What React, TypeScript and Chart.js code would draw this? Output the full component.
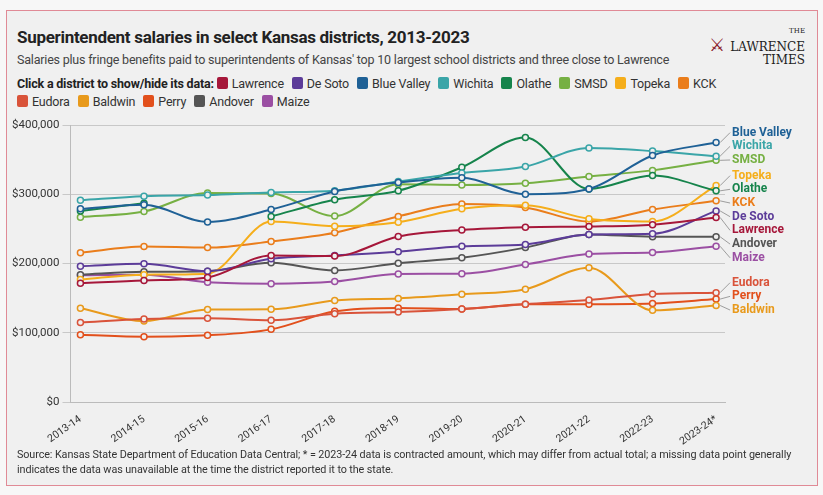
import React, { useEffect, useRef } from "react";
import { Chart, registerables } from "chart.js";
Chart.register(...registerables);

const seasons = ["2013-14","2014-15","2015-16","2016-17","2017-18","2018-19","2019-20","2020-21","2021-22","2022-23","2023-24*"];
const names = ["Lawrence","De Soto","Blue Valley","Wichita","Olathe","SMSD","Topeka","KCK","Eudora","Baldwin","Perry","Andover","Maize"];
const colors = ["#a6173a","#5c3c99","#1f6196","#3aa5a8","#16844c","#76b043","#f5ae1b","#ea7d1b","#d9533a","#e89a1c","#e2501c","#555555","#9b4fa3"];
const lawrence = [171.7,175.6,180,211.8,210.8,239,248.5,252.4,253.4,256,266.6];
const desoto = [196,199.6,189,207,211.8,217,225,227.5,242,243,276];
const blueValley = [279,285,260,278,304,317,324,300,307.6,356,374.6];
const wichita = [291.5,297.3,298.8,302.7,305.2,318.4,330.6,340,366.8,362.4,355];
const olathe = [276,287,null,268,292,305,339,382,307.6,327,305];
const smsd = [267,275,302,301,268.5,314.5,313.5,316,325.7,334.5,349];
const topeka = [177,184,185.4,260.7,254,259.7,279,284,264.6,260.7,312.5];
const kck = [215.7,224.5,223,232,244.6,268,286,281,260.7,278,290.5];
const eudora = [115,120,121,118,127.7,130,134.5,141.4,147.3,156,158];
const baldwin = [135.5,117,133.6,134,146.8,149.7,155.6,163,194,132.6,139.5];
const perry = [97.4,94.5,96.5,105,131,136,134.5,141.4,141.4,142.4,148.7];
const andover = [184,188,189,201,190,200.6,208.4,223,242,238.7,238.7];
const maize = [183,184,173,171,174,185,185.4,198.6,213.8,216,225];
const series = [lawrence,desoto,blueValley,wichita,olathe,smsd,topeka,kck,eudora,baldwin,perry,andover,maize];
const yTicks = [0,100000,200000,300000,400000];

const FONT = "'Roboto',sans-serif";

const endLabels = {
  id: "endLabels",
  afterDatasetsDraw(chart: any) {
    const ctx = chart.ctx;
    const items: any[] = [];
    chart.data.datasets.forEach((ds: any, i: number) => {
      const meta = chart.getDatasetMeta(i);
      const pt = meta.data[meta.data.length - 1];
      items.push({ y: pt.y - 10, py: pt.y, px: pt.x, label: ds.label, color: ds.borderColor });
    });
    items.sort((a, b) => a.py - b.py);
    const gap = 13.7;
    for (let i = 1; i < items.length; i++) {
      if (items[i].y < items[i - 1].y + gap) items[i].y = items[i - 1].y + gap;
    }
    ctx.save();
    ctx.font = "bold 12px " + FONT;
    ctx.textBaseline = "middle";
    items.forEach((it) => {
      const ly = it.y;
      ctx.strokeStyle = "#888";
      ctx.lineWidth = 0.8;
      ctx.beginPath();
      ctx.moveTo(it.px + 4, it.py);
      ctx.lineTo(it.px + 14, ly);
      ctx.stroke();
      ctx.fillStyle = it.color;
      ctx.fillText(it.label, it.px + 16, ly);
    });
    ctx.restore();
  },
};

export default function App() {
  const ref = useRef<HTMLCanvasElement>(null);
  useEffect(() => {
    const chart = new Chart(ref.current!, {
      type: "line",
      data: {
        datasets: names.map((n, i) => ({
          label: n,
          data: series[i].map((v, j) => ({ x: j, y: v === null ? null : v * 1000 })),
          borderColor: colors[i],
          backgroundColor: "#f0f0f0",
          borderWidth: 2,
          pointRadius: 3,
          pointBorderWidth: 1.5,
          tension: 0.4,
          cubicInterpolationMode: "monotone",
          spanGaps: false,
        })),
      },
      options: {
        animation: false,
        responsive: false,
        maintainAspectRatio: false,
        layout: { padding: { top: 14, right: 92, left: 0, bottom: 0 } },
        plugins: { legend: { display: false }, tooltip: { enabled: false } },
        scales: {
          x: {
            type: "linear",
            min: -0.156,
            max: 10.14,
            grid: { display: false },
            border: { display: true, color: "#bbb" },
            afterBuildTicks: (ax: any) => { ax.ticks = seasons.map((_, i) => ({ value: i })); },
            ticks: {
              callback: (v: any) => seasons[v] ?? "",
              maxRotation: 35, minRotation: 35,
              color: "#333", font: { size: 10.5, family: FONT },
            },
          },
          y: {
            min: 0, max: 400000,
            afterBuildTicks: (ax: any) => { ax.ticks = yTicks.map((v) => ({ value: v })); },
            grid: { color: "#c8c8c8" },
            border: { display: true, color: "#bbb" },
            ticks: {
              callback: (v: any) => "$" + Number(v).toLocaleString("en-US"),
              color: "#333", font: { size: 11.5, family: FONT },
            },
          },
        },
      },
      plugins: [endLabels],
    } as any);
    return () => chart.destroy();
  }, []);

  return (
    <div style={{ position: "absolute", left: 0, top: 0, width: 823, height: 495, background: "#f7f7f7", fontFamily: FONT }}>
      <div style={{ position: "absolute", left: 6, top: 10, width: 810, height: 474, background: "#f0f0f0", border: "1px solid #e08a96" }}>
        <div style={{ position: "absolute", left: 10, top: 16, fontSize: 17, fontWeight: "bold", color: "#222", letterSpacing: -0.3 }}>
          Superintendent salaries in select Kansas districts, 2013-2023
        </div>
        <div style={{ position: "absolute", left: 10, top: 41, fontSize: 12.5, color: "#444", letterSpacing: -0.2 }}>
          Salaries plus fringe benefits paid to superintendents of Kansas' top 10 largest school districts and three close to Lawrence
        </div>
        <div style={{ position: "absolute", right: 12, top: 14, textAlign: "right", fontFamily: "'DejaVu Serif',serif", color: "#222", lineHeight: "13px" }}>
          <div style={{ fontSize: 7 }}>THE</div>
          <div style={{ fontSize: 12 }}><span style={{ color: "#8a1c2b", fontSize: 18 }}>⚔ </span>LAWRENCE</div>
          <div style={{ fontSize: 12 }}>TIMES</div>
        </div>
        <div style={{ position: "absolute", left: 10, top: 64, width: 760, fontSize: 12.5, color: "#333", lineHeight: "18px", letterSpacing: -0.2 }}>
          <b style={{ color: "#222" }}>Click a district to show/hide its data: </b>
          {names.map((n, i) => (
            <span key={n} style={{ marginRight: 8, whiteSpace: "nowrap" }}>
              <span style={{ display: "inline-block", width: 11, height: 12, background: colors[i], borderRadius: 2, verticalAlign: "-1px", marginRight: 4 }} />
              {n}
            </span>
          ))}
        </div>
        <canvas ref={ref} width={808} height={340} style={{ position: "absolute", left: 2, top: 100, width: 808, height: 340 }} />
        <div style={{ position: "absolute", left: 10, top: 436, width: 790, fontSize: 10.8, color: "#333", lineHeight: "15px", letterSpacing: -0.1 }}>
          Source: Kansas State Department of Education Data Central; * = 2023-24 data is contracted amount, which may differ from actual total; a missing data point generally indicates the data was unavailable at the time the district reported it to the state.
        </div>
      </div>
    </div>
  );
}
